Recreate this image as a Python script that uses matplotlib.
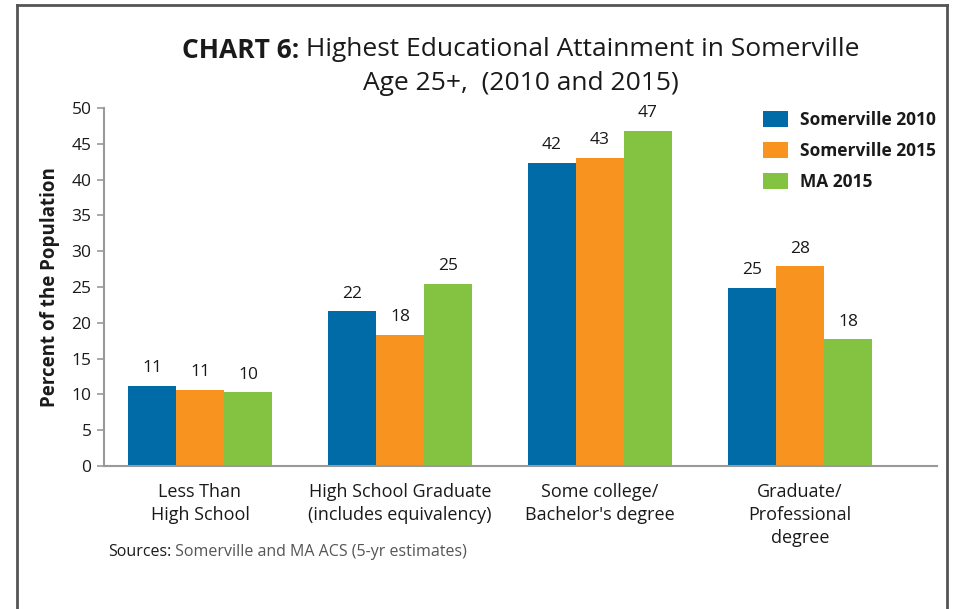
import matplotlib
matplotlib.use("Agg")
import matplotlib.pyplot as plt
from matplotlib.lines import Line2D
import numpy as np

categories = ["Less Than\nHigh School", "High School Graduate\n(includes equivalency)",
              "Some college/\nBachelor's degree", "Graduate/\nProfessional\ndegree"]
series_names = ["Somerville 2010", "Somerville 2015", "MA 2015"]
somerville_2010 = [11.2, 21.6, 42.3, 24.9]
somerville_2015 = [10.6, 18.3, 43.0, 27.9]
ma_2015 = [10.3, 25.4, 46.8, 17.7]
labels_2010 = ["11", "22", "42", "25"]
labels_2015s = ["11", "18", "43", "28"]
labels_ma = ["10", "25", "47", "18"]
yticks = [0, 5, 10, 15, 20, 25, 30, 35, 40, 45, 50]

colors = ["#006BA6", "#F7931E", "#84C341"]
FONT = "Open Sans"
plt.rcParams['font.family'] = [FONT, 'DejaVu Sans']

fig = plt.figure(figsize=(9.59, 6.09), dpi=100)
W, H = 959, 609
ax = fig.add_axes([104 / W, 1 - 466 / H, (937 - 104) / W, (466 - 108) / H])

x = np.arange(len(categories))
bw = 0.24
all_series = [somerville_2010, somerville_2015, ma_2015]
all_labels = [labels_2010, labels_2015s, labels_ma]
for i, (vals, labs) in enumerate(zip(all_series, all_labels)):
    pos = x + (i - 1) * bw
    ax.bar(pos, vals, width=bw, color=colors[i], label=series_names[i], linewidth=0)
    for p, v, l in zip(pos, vals, labs):
        ax.annotate(l, (p, v), xytext=(0, 7), textcoords="offset points",
                    ha="center", va="bottom", fontsize=12.5, color="#1a1a1a")

ax.set_xlim(-0.48, 3.685)
ax.set_ylim(0, 50)
ax.set_yticks(yticks)
ax.set_yticklabels([str(t) for t in yticks], fontsize=12.5, color="#1a1a1a")
ax.set_xticks(x)
ax.set_xticklabels(categories, fontsize=13, color="#1a1a1a", linespacing=1.38)
ax.tick_params(axis="x", length=0, pad=12)
ax.tick_params(axis="y", length=5, color="#999999", width=1.2, pad=4)
for s in ["top", "right"]:
    ax.spines[s].set_visible(False)
for s in ["left", "bottom"]:
    ax.spines[s].set_color("#999999")
    ax.spines[s].set_linewidth(1.5)
ax.set_ylabel("Percent of the Population", fontsize=13.5, fontweight="bold", labelpad=8, color="#1a1a1a")

leg = ax.legend(loc="upper left", bbox_to_anchor=(0.772, 1.035), frameon=False,
                prop={"size": 12.5, "weight": "bold"}, handlelength=1.45, handleheight=1.0,
                labelspacing=0.75, handletextpad=0.7)
for t in leg.get_texts():
    t.set_color("#1a1a1a")

# Title with mixed weights
fig.canvas.draw()
r = fig.canvas.get_renderer()
t1 = fig.text(0, 0, "CHART 6:", fontsize=19, fontweight="bold", color="#1a1a1a")
t2 = fig.text(0, 0, " Highest Educational Attainment in Somerville", fontsize=19, color="#1a1a1a")
w1 = t1.get_window_extent(r).width
w2 = t2.get_window_extent(r).width
cx = 521
start = cx - (w1 + w2) / 2
y1 = 1 - 50 / H
t1.set_position((start / W, y1)); t1.set_va("center")
t2.set_position(((start + w1) / W, y1)); t2.set_va("center")
fig.text(cx / W, 1 - 83 / H, "Age 25+,  (2010 and 2015)", fontsize=19, ha="center", va="center", color="#1a1a1a")

# Sources
s1 = fig.text(108 / W, 1 - 552 / H, "Sources:", fontsize=11.5, color="#1a1a1a", va="center")
sw = s1.get_window_extent(r).width
fig.text((108 + sw) / W, 1 - 552 / H, " Somerville and MA ACS (5-yr estimates)", fontsize=11.5,
         color="#555555", va="center")

# outer frame
fc = "#555555"
fig.add_artist(Line2D([17 / W, 17 / W], [0, 1 - 5 / H], color=fc, lw=2, transform=fig.transFigure))
fig.add_artist(Line2D([17 / W, 947 / W], [1 - 5 / H, 1 - 5 / H], color=fc, lw=2, transform=fig.transFigure))
fig.add_artist(Line2D([947 / W, 947 / W], [0, 1 - 5 / H], color=fc, lw=2, transform=fig.transFigure))

fig.savefig("out.png", dpi=100)
